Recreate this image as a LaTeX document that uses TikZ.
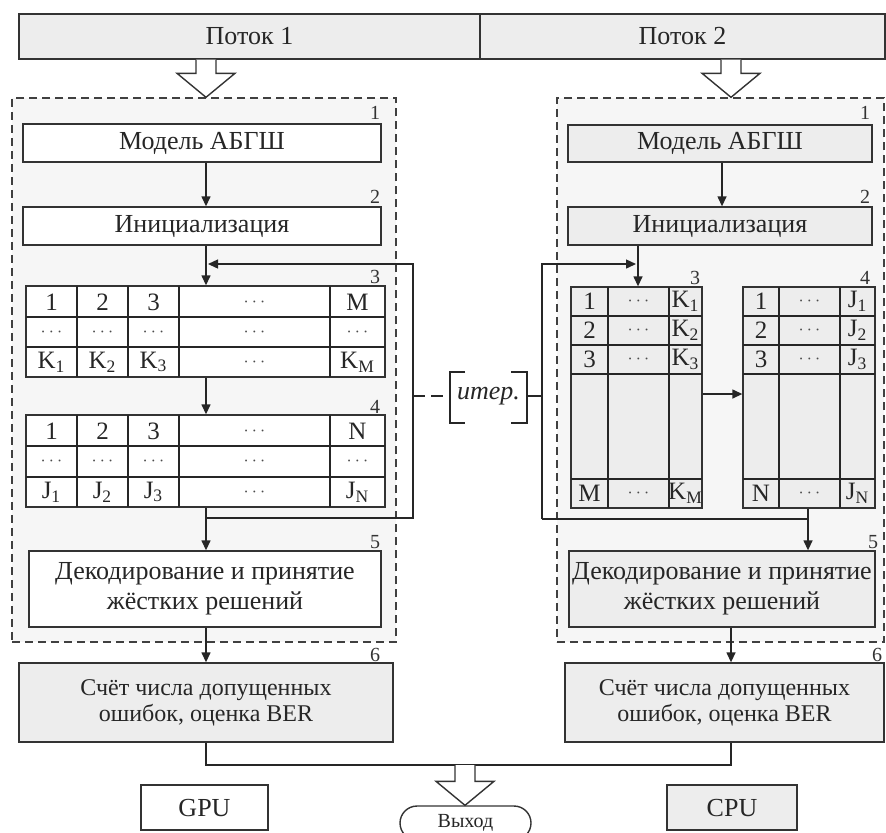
\documentclass[tikz,border=0pt]{standalone}
\usepackage{fontspec}
\setmainfont{Liberation Serif}
\usetikzlibrary{arrows.meta,calc,fit}
\newcommand\fatarr[2]{%
  \path #1 coordinate (fa1) #2 coordinate (fa2);
  \draw[fatstyle] let \p1=(fa1), \p2=(fa2) in
    (\x1-5pt,\y1) -- (\x1-5pt,\y2+12pt) -- (\x1-14.5pt,\y2+12pt) -- (\x1,\y2)
    -- (\x1+14.5pt,\y2+12pt) -- (\x1+5pt,\y2+12pt) -- (\x1+5pt,\y1);}
\begin{document}
\begin{tikzpicture}[x=0.5pt,y=-0.5pt,
  box/.style={draw=black!80, line width=0.7pt, inner sep=0pt},
  wbox/.style={box, fill=white},
  gbox/.style={box, fill=gray!14},
  dbox/.style={draw=black!75, line width=0.7pt, dash pattern=on 4pt off 2.5pt, fill=gray!7, inner sep=0pt},
  arr/.style={draw=black!85, line width=0.7pt, -{Triangle[length=5pt,width=4.5pt]}},
  ln/.style={draw=black!85, line width=0.7pt},
  fatstyle/.style={draw=black!80, line width=0.7pt, fill=white},
  num/.style={font=\fontsize{10}{10}\selectfont, inner sep=0pt, text=black!80},
  txt/.style={font=\fontsize{13}{15}\selectfont, align=center, text=black!85, inner sep=0pt},
  txts/.style={font=\fontsize{12}{13}\selectfont, align=center, text=black!85, inner sep=0pt},
  cell/.style={font=\fontsize{12.5}{13}\selectfont, inner sep=0pt, text=black!85},
  dots/.style={font=\fontsize{9}{9}\selectfont, inner sep=0pt, text=black!70},
]
\useasboundingbox (0,0) rectangle (886,832);
\fill[white] (0,0) rectangle (886,832);

% columns
\coordinate (colL) at (206,0);
\coordinate (colR1) at (722,0);
\coordinate (colT3) at (638,0);
\coordinate (colT4) at (808,0);
\coordinate (colR) at (731,0);
\coordinate (colO) at (465,0);

% top bar
\node[gbox, fit={(19,14) (480,59)}] (barL) {};
\node[gbox, fit={(480,14) (885,59)}] (barR) {};
\node[txt] (barLt) at (barL.center) {Поток 1};
\node[txt] (barRt) at (barR.center) {Поток 2};

% dashed regions
\node[dbox, fit={(12,98) (396,642)}] (DL) {};
\node[dbox, fit={(557,98) (884,642)}] (DR) {};

% ---------- left column ----------
\node[wbox, fit={(23,124) (381,162)}] (L1) {};
\node[wbox, fit={(23,207) (381,245)}] (L2) {};
\node[wbox, fit={(26,286) (385,377)}] (T3L) {};
\node[wbox, fit={(26,415) (385,507)}] (T4L) {};
\node[wbox, fit={(29,551) (381,627)}] (L5) {};
\node[gbox, fit={(19,663) (393,742)}] (L6) {};
\node[txt] (L1t) at (L1.center) {Модель АБГШ};
\node[txt] (L2t) at (L2.center) {Инициализация};
\node[txt] (L5t) at (L5.center) {Декодирование и принятие\\жёстких решений};
\node[txts] (L6t) at (L6.center) {Счёт числа допущенных\\ошибок, оценка BER};

\foreach \yy in {317,347} \draw[ln] (26,\yy) -- (385,\yy);
\foreach \yy in {446,477} \draw[ln] (26,\yy) -- (385,\yy);
\foreach \xx in {77,128,179,330} {
  \draw[ln] (\xx,286) -- (\xx,377);
  \draw[ln] (\xx,415) -- (\xx,507);
}
% table 3 left
\foreach \xx/\t [count=\i] in {51.5/1,102.5/2,153.5/3,357.5/M}
  \node[cell] (a1\i) at (\xx,302) {\t};
\node[dots] (a15) at (254.5,302) {$\cdots$};
\foreach \xx [count=\i] in {51.5,102.5,153.5,254.5,357.5}
  \node[dots] (a2\i) at (\xx,332) {$\cdots$};
\foreach \xx/\t [count=\i] in {51.5/{K\textsubscript{1}},102.5/{K\textsubscript{2}},153.5/{K\textsubscript{3}},357.5/{K\textsubscript{M}}}
  \node[cell] (a3\i) at (\xx,362) {\t};
\node[dots] (a35) at (254.5,362) {$\cdots$};
% table 4 left
\foreach \xx/\t [count=\i] in {51.5/1,102.5/2,153.5/3,357.5/N}
  \node[cell] (b1\i) at (\xx,431) {\t};
\node[dots] (b15) at (254.5,431) {$\cdots$};
\foreach \xx [count=\i] in {51.5,102.5,153.5,254.5,357.5}
  \node[dots] (b2\i) at (\xx,461.5) {$\cdots$};
\foreach \xx/\t [count=\i] in {51.5/{J\textsubscript{1}},102.5/{J\textsubscript{2}},153.5/{J\textsubscript{3}},357.5/{J\textsubscript{N}}}
  \node[cell] (b3\i) at (\xx,492) {\t};
\node[dots] (b35) at (254.5,492) {$\cdots$};

% ---------- right column ----------
\node[gbox, fit={(568,125) (872,162)}] (R1) {};
\node[gbox, fit={(568,207) (872,245)}] (R2) {};
\node[gbox, fit={(571,287) (702,508)}] (T3R) {};
\node[gbox, fit={(743,287) (875,508)}] (T4R) {};
\node[gbox, fit={(569,551) (875,627)}] (R5) {};
\node[gbox, fit={(565,663) (884,742)}] (R6) {};
\node[txt] (R1t) at (R1.center) {Модель АБГШ};
\node[txt] (R2t) at (R2.center) {Инициализация};
\node[txt] (R5t) at (R5.center) {Декодирование и принятие\\жёстких решений};
\node[txts] (R6t) at (R6.center) {Счёт числа допущенных\\ошибок, оценка BER};

\foreach \yy in {316,345,374,479} {
  \draw[ln] (571,\yy) -- (702,\yy);
  \draw[ln] (743,\yy) -- (875,\yy);
}
\foreach \xx in {608,669} \draw[ln] (\xx,287) -- (\xx,508);
\foreach \xx in {779,840} \draw[ln] (\xx,287) -- (\xx,508);
\foreach \yy/\a/\k [count=\i] in {301.5/1/{K\textsubscript{1}},330.5/2/{K\textsubscript{2}},359.5/3/{K\textsubscript{3}},493.5/M/{K\textsubscript{M}}} {
  \node[cell] (c\i a) at (589.5,\yy) {\a};
  \node[dots] (c\i b) at (638.5,\yy) {$\cdots$};
  \node[cell] (c\i c) at (685.5,\yy) {\k};
}
\foreach \yy/\a/\k [count=\i] in {301.5/1/{J\textsubscript{1}},330.5/2/{J\textsubscript{2}},359.5/3/{J\textsubscript{3}},493.5/N/{J\textsubscript{N}}} {
  \node[cell] (d\i a) at (761,\yy) {\a};
  \node[dots] (d\i b) at (809.5,\yy) {$\cdots$};
  \node[cell] (d\i c) at (857.5,\yy) {\k};
}

% number labels
\node[num] (n1L) at (375,113) {1};
\node[num] (n2L) at (375,197) {2};
\node[num] (n3L) at (375,277) {3};
\node[num] (n4L) at (375,407) {4};
\node[num] (n5L) at (375,542) {5};
\node[num] (n6L) at (375,655) {6};
\node[num] (n1R) at (865,113) {1};
\node[num] (n2R) at (865,197) {2};
\node[num] (n3R) at (695,278) {3};
\node[num] (n4R) at (865,278) {4};
\node[num] (n5R) at (873,542) {5};
\node[num] (n6R) at (877,655) {6};

% bottom nodes
\node[wbox, fit={(141,785) (268,830)}] (GPU) {};
\node[gbox, fit={(667,785) (797,830)}] (CPU) {};
\node[wbox, rounded corners=8.5pt, fit={(400,806) (531,840)}] (Out) {};
\node[txt] (GPUt) at (GPU.center) {GPU};
\node[txt] (CPUt) at (CPU.center) {CPU};
\node[txt, font=\fontsize{10}{10}\selectfont] (Outt) at (Out.center) {Выход};

% ---------- connectors left ----------
\draw[arr] (L1.south -| colL) -- (L2.north -| colL);
\draw[arr] (L2.south -| colL) -- (T3L.north -| colL);
\draw[arr] (T3L.south -| colL) -- (T4L.north -| colL);
\draw[arr] (T4L.south -| colL) -- (L5.north -| colL);
\draw[arr] (L5.south -| colL) -- (L6.north -| colL);
\coordinate (lpB) at (413,518);
\coordinate (lpT) at (413,264);
\draw[arr] (lpB -| colL) -- (lpB) -- (lpT) -- ($(lpT -| colL)+(2,0)$);

% ---------- connectors right ----------
\draw[arr] (R1.south -| colR1) -- (R2.north -| colR1);
\draw[arr] (R2.south -| colT3) -- (T3R.north -| colT3);
\coordinate (mid) at (0,394);
\draw[arr] (T3R.east |- mid) -- (T4R.west |- mid);
\draw[arr] (T4R.south -| colT4) -- (R5.north -| colT4);
\draw[arr] (R5.south -| colR) -- (R6.north -| colR);
\coordinate (rpB) at (542,519);
\coordinate (rpT) at (542,264);
\draw[ln] (rpB -| colT4) -- (rpB);
\draw[arr] (rpB) -- (rpT) -- ($(rpT -| colT3)+(-2,0)$);

% ---------- iteration bracket ----------
\node[txt, font=\fontsize{13}{15}\selectfont\itshape] (iter) at (488.5,396) {итер.};
\draw[ln] (465,372) -- (450,372) -- (450,423) -- (465,423);
\draw[ln] (511,372) -- (527,372) -- (527,423) -- (511,423);
\draw[ln, dash pattern=on 6pt off 3pt] (lpB |- iter) -- (450,396);
\draw[ln] (527,396) -- (rpB |- iter);

% ---------- merge ----------
\coordinate (mg) at (0,765);
\draw[ln] (L6.south -| colL) -- (mg -| colL) -- (mg -| colR) -- (R6.south -| colR);

% fat arrows
\fatarr{(barL.south -| colL)}{(DL.north -| colL)}
\fatarr{(barR.south -| colR)}{(DR.north -| colR)}
\fatarr{(mg -| colO)}{(Out.north)}
\end{tikzpicture}
\end{document}
